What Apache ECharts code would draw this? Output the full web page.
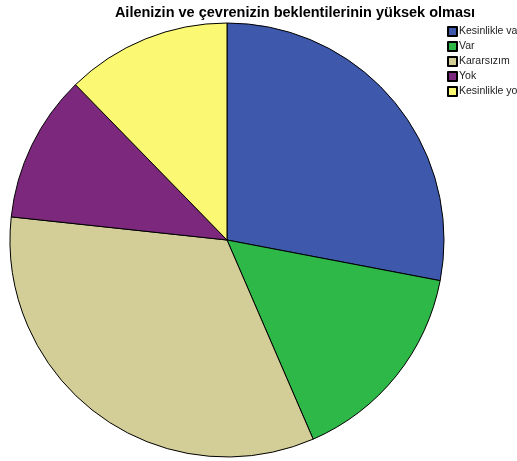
<!DOCTYPE html>
<html>
<head>
<meta charset="utf-8">
<script src="https://cdn.jsdelivr.net/npm/echarts@6/dist/echarts.min.js"></script>
<style>
  html, body { margin: 0; padding: 0; background: #fff; }
  #chartPie { width: 517px; height: 461px; }
</style>
</head>
<body>
<div id="chartPie"></div>
<script>
  'use strict'

  // categories and shares (percent)
  var categories = ['Kesinlikle var', 'Var', 'Kararsızım', 'Yok', 'Kesinlikle yok'];
  var values = [28.0, 15.5, 33.2, 11.0, 12.3];
  var colors = ['#3e58ac', '#2eb848', '#d3ce97', '#7c287d', '#fbf873'];

  var pieData = categories.map(function (name, i) {
    return { name: name, value: values[i], itemStyle: { color: colors[i] } };
  });

  var chart = echarts.init(document.getElementById('chartPie'));

  var option = {
    animation: false,
    title: {
      text: 'Ailenizin ve çevrenizin beklentilerinin yüksek olması',
      left: 290,
      textAlign: 'center',
      top: 0,
      textStyle: {
        fontFamily: 'Liberation Sans',
        fontSize: 14.5,
        fontWeight: 'bold',
        color: '#000'
      }
    },
    legend: {
      orient: 'vertical',
      left: 447,
      top: 26,
      padding: 0,
      itemWidth: 9,
      itemHeight: 9,
      itemGap: 4,
      icon: 'rect',
      textStyle: {
        fontFamily: 'Liberation Sans',
        fontSize: 10.5,
        color: '#222',
        padding: [0, 0, 0, -3]
      },
      data: categories
    },
    series: [
      {
        type: 'pie',
        center: [227, 240],
        radius: 217,
        startAngle: 90,
        clockwise: true,
        label: { show: false },
        labelLine: { show: false },
        emphasis: { disabled: true },
        itemStyle: { borderColor: '#000', borderWidth: 1 },
        data: pieData
      }
    ]
  };

  chart.setOption(option);
</script>
</body>
</html>
